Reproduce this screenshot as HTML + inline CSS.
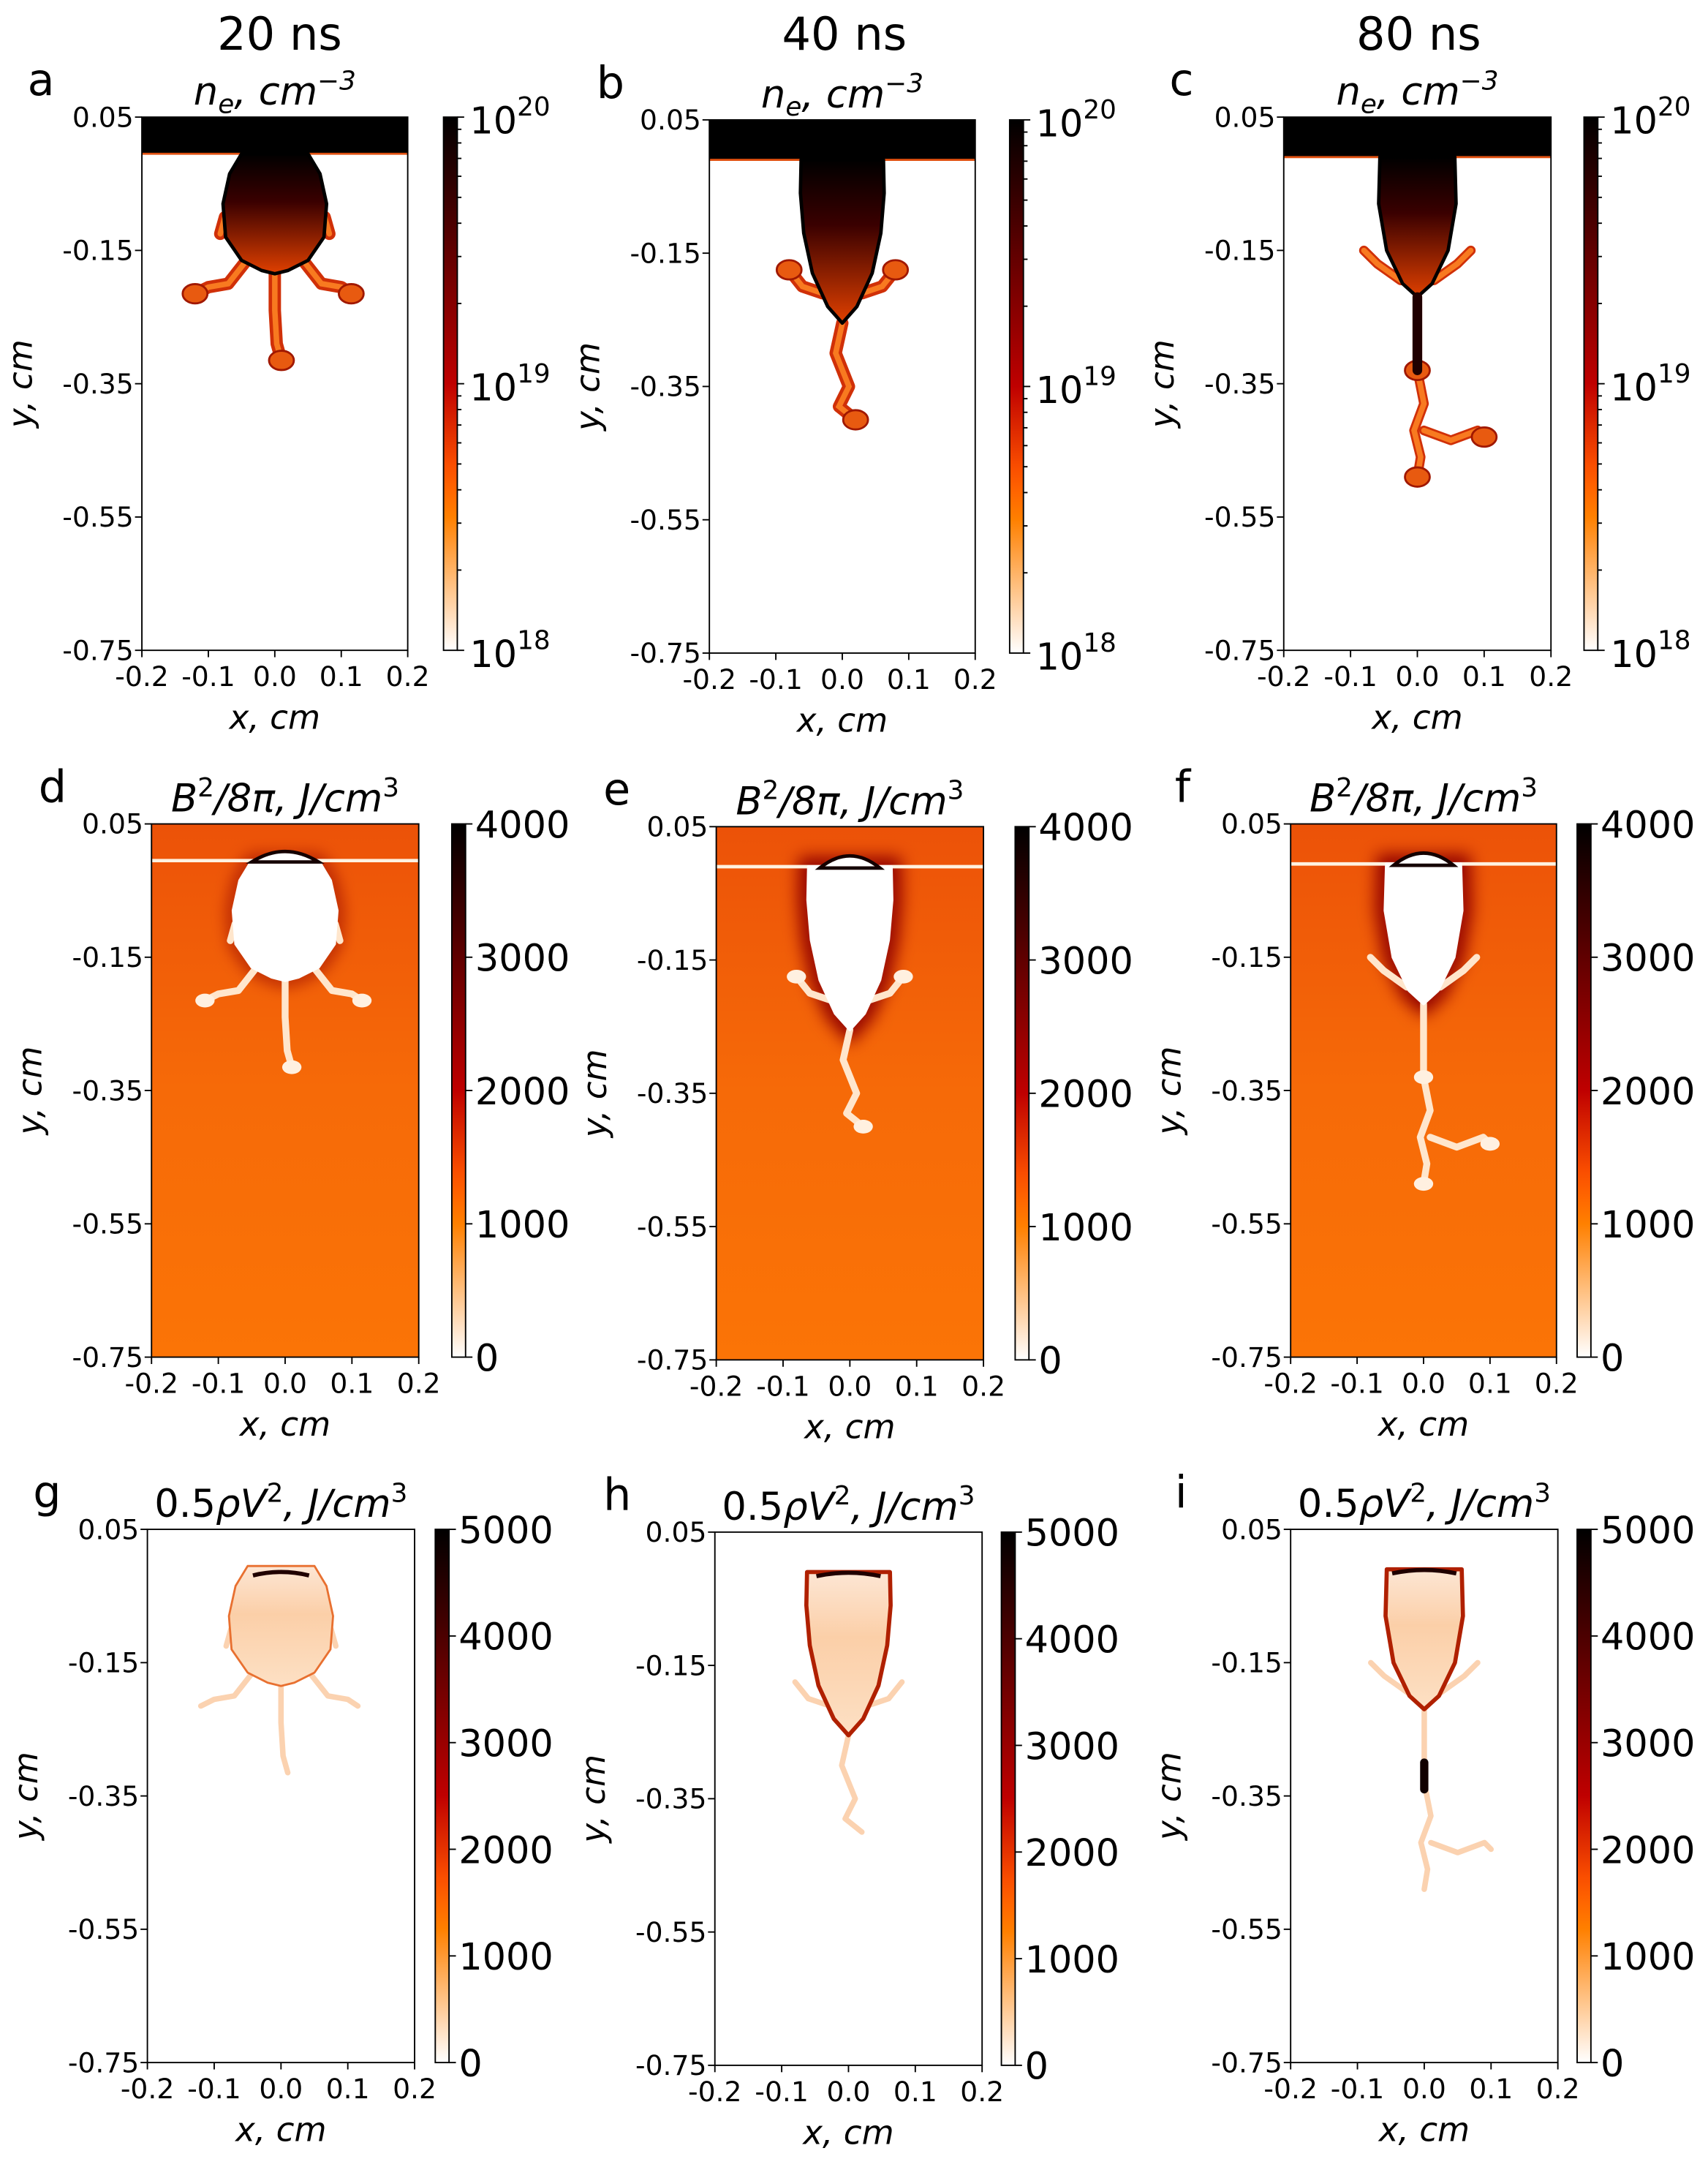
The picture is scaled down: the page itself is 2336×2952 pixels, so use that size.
<!DOCTYPE html>
<html><head><meta charset="utf-8"><style>
html,body{margin:0;padding:0;background:#fff;}
svg{display:block;font-family:"DejaVu Sans","Liberation Sans",sans-serif;}
</style></head>
<body>
<svg id="fig" xmlns="http://www.w3.org/2000/svg" width="2336" height="2952" viewBox="0 0 1240 1567">
<defs>
<filter id="blur2" x="-50%" y="-50%" width="200%" height="200%"><feGaussianBlur stdDeviation="2"/></filter>
<filter id="blur5" x="-50%" y="-50%" width="200%" height="200%"><feGaussianBlur stdDeviation="6"/></filter>
<linearGradient id="neBody" x1="0" y1="0" x2="0" y2="1"><stop offset="0" stop-color="#000"/><stop offset="0.4" stop-color="#3a0000"/><stop offset="1" stop-color="#e04000"/></linearGradient>
<linearGradient id="bBg" x1="0" y1="0" x2="0" y2="1"><stop offset="0" stop-color="#ec5208"/><stop offset="0.5" stop-color="#f66a08"/><stop offset="1" stop-color="#fb7406"/></linearGradient>
<linearGradient id="kBody" x1="0" y1="0" x2="0" y2="1"><stop offset="0" stop-color="#fde6d4"/><stop offset="0.4" stop-color="#fbcfa8"/><stop offset="1" stop-color="#fde0c4"/></linearGradient>
</defs>
</svg>
<script>
// ---- data arrays ----
const xTicks = [-0.2, -0.1, 0.0, 0.1, 0.2];
const xTickLabels = ['-0.2', '-0.1', '0.0', '0.1', '0.2'];
const yTicks = [0.05, -0.15, -0.35, -0.55, -0.75];
const yTickLabels = ['0.05', '-0.15', '-0.35', '-0.55', '-0.75'];
const neCbTicks = [18, 19, 20];
const neCbLabels = ['18', '19', '20'];
const bCbTicks = [0, 1000, 2000, 3000, 4000];
const kCbTicks = [0, 1000, 2000, 3000, 4000, 5000];
const times = ['20 ns', '40 ns', '80 ns'];
const letters = ['a','b','c','d','e','f','g','h','i'];

// ---- layout (small coords) ----
const axes = [
 [103,85,193,387],[515,87,193,387],[932,85,194,387],
 [110,598,194,387],[520,600,194,387],[937,598,193,387],
 [107,1110,194,387],[519,1112,194,387],[937,1110,194,387]];
const cbx = [322,733,1150,328,737,1145,316,727,1145];
const headerX = [203,613,1030];
const letterX = [20,433,849,28,438,853,24,438,853];

const NS='http://www.w3.org/2000/svg';
const svg=document.getElementById('fig');
function el(tag,attrs,parent){const e=document.createElementNS(NS,tag);for(const k in attrs)e.setAttribute(k,attrs[k]);(parent||svg).appendChild(e);return e;}
function cmap(v){const x=1-Math.max(0,Math.min(1,v));const r=Math.min(1,1.5*x),g=Math.max(0,2*x-1),b=Math.max(0,4*x-3);
 return 'rgb('+Math.round(r*255)+','+Math.round(g*255)+','+Math.round(b*255)+')';}

const cg=el('linearGradient',{id:'cmapG',x1:0,y1:1,x2:0,y2:0},svg.querySelector('defs'));
for(let i=0;i<=20;i++){el('stop',{offset:i/20,'stop-color':cmap(i/20)},cg);}

const bodies=[
 [[-0.05,-0.005],[-0.068,-0.035],[-0.078,-0.08],[-0.074,-0.13],[-0.05,-0.165],[-0.02,-0.18],[0,-0.185],[0.02,-0.18],[0.05,-0.165],[0.074,-0.13],[0.078,-0.08],[0.068,-0.035],[0.05,-0.005]],
 [[-0.062,-0.01],[-0.063,-0.06],[-0.058,-0.12],[-0.045,-0.18],[-0.022,-0.23],[0,-0.255],[0.022,-0.23],[0.045,-0.18],[0.058,-0.12],[0.063,-0.06],[0.062,-0.01]],
 [[-0.056,-0.01],[-0.058,-0.08],[-0.046,-0.15],[-0.022,-0.2],[0,-0.22],[0.022,-0.2],[0.046,-0.15],[0.058,-0.08],[0.056,-0.01]]];
const fingers=[
 [[[-0.045,-0.168],[-0.07,-0.2],[-0.1,-0.205],[-0.12,-0.215]],[[0.045,-0.168],[0.07,-0.2],[0.1,-0.205],[0.115,-0.215]],[[0,-0.185],[0,-0.24],[0.003,-0.29],[0.01,-0.315]],[[-0.075,-0.1],[-0.082,-0.125]],[[0.075,-0.1],[0.082,-0.125]]],
 [[[-0.03,-0.21],[-0.06,-0.2],[-0.08,-0.175]],[[0.03,-0.21],[0.06,-0.2],[0.08,-0.175]],[[0,-0.255],[-0.01,-0.3],[0.01,-0.35],[-0.005,-0.38],[0.02,-0.4]]],
 [[[-0.025,-0.195],[-0.06,-0.17],[-0.08,-0.15]],[[0.025,-0.195],[0.06,-0.17],[0.08,-0.15]],[[0,-0.22],[0,-0.33],[0.01,-0.38],[-0.005,-0.42],[0.005,-0.46],[0,-0.49]],[[0.01,-0.42],[0.05,-0.435],[0.09,-0.42],[0.1,-0.43]]]];
const blobs=[[[-0.12,-0.215],[0.115,-0.215],[0.01,-0.315]],[[0.02,-0.4],[-0.08,-0.175],[0.08,-0.175]],[[0,-0.49],[0.1,-0.43],[0,-0.33]]];

for(let p=0;p<9;p++){
 const [ax,ay,aw,ah]=axes[p];const row=Math.floor(p/3),col=p%3;
 const X=v=>ax+(v+0.2)/0.4*aw, Y=v=>ay+(0.05-v)/0.8*ah;
 const pathOf=pts=>pts.map((q,i)=>(i?'L':'M')+X(q[0]).toFixed(1)+','+Y(q[1]).toFixed(1)).join(' ');
 const g=el('g',{});
 
 
 const clip=el('clipPath',{id:'clip'+p},svg.querySelector('defs'));el('rect',{x:ax,y:ay,width:aw,height:ah},clip);
 const img=el('g',{'clip-path':'url(#clip'+p+')'},g);
 
 
 const bandY=Y(col===0?-0.005:-0.01);
 if(row===0){
  el('rect',{x:ax,y:ay,width:aw,height:ah,fill:'#fff'},img);
  el('rect',{x:ax,y:ay,width:aw,height:bandY-ay,fill:'#000'},img);
  el('line',{x1:ax,x2:ax+aw,y1:bandY,y2:bandY,stroke:'#e05010','stroke-width':1.5},img);
  fingers[col].forEach(f=>el('path',{d:pathOf(f),fill:'none',stroke:'#d03008','stroke-width':col==2?7:9,'stroke-linecap':'round','stroke-linejoin':'round'},img));
  fingers[col].forEach(f=>el('path',{d:pathOf(f),fill:'none',stroke:'#f87a20','stroke-width':4,'stroke-linecap':'round'},img));
  blobs[col].forEach(b=>el('ellipse',{cx:X(b[0]),cy:Y(b[1]),rx:9,ry:7,fill:'#e85a10',stroke:'#a01800','stroke-width':1.5},img));
  el('path',{d:pathOf(bodies[col])+'Z',fill:'url(#neBody)',stroke:'#000','stroke-width':2.5,'stroke-linejoin':'round'},img);
  if(col===2)el('path',{d:pathOf([[0,-0.22],[0,-0.33]]),stroke:'#200000','stroke-width':7,'stroke-linecap':'round'},img);
 } else if(row===1){
  el('rect',{x:ax,y:ay,width:aw,height:ah,fill:'url(#bBg)'},img);
  el('path',{d:pathOf(bodies[col])+'Z',fill:'none',stroke:'#900000','stroke-width':col===0?6:14,filter:'url(#blur5)'},img);
  el('line',{x1:ax,x2:ax+aw,y1:bandY,y2:bandY,stroke:'#fff2e0','stroke-width':2.5},img);
  fingers[col].forEach(f=>el('path',{d:pathOf(f),fill:'none',stroke:'#ffe6cc','stroke-width':5,'stroke-linecap':'round','stroke-linejoin':'round'},img));
  blobs[col].forEach(b=>el('ellipse',{cx:X(b[0]),cy:Y(b[1]),rx:7,ry:5,fill:'#fff0e0'},img));
  el('path',{d:pathOf(bodies[col])+'Z',fill:'#fff',stroke:'#fff','stroke-width':2,'stroke-linejoin':'round'},img);
  const cw=col===0?0.05:0.045;
  el('path',{d:'M'+X(-cw)+','+(bandY+1)+' Q'+X(0)+','+(Y(0.012)-6)+' '+X(cw)+','+(bandY+1)+'Z',fill:'#fff',stroke:'#150000','stroke-width':2.5},img);
 } else {
  el('rect',{x:ax,y:ay,width:aw,height:ah,fill:'#fff'},img);
  fingers[col].forEach(f=>el('path',{d:pathOf(f),fill:'none',stroke:'#fbd2b0','stroke-width':4,'stroke-linecap':'round','stroke-linejoin':'round'},img));
  el('path',{d:pathOf(bodies[col])+'Z',fill:'url(#kBody)',stroke:col===0?'#e87030':'#b02000','stroke-width':col===0?1.5:3,'stroke-linejoin':'round'},img);
  if(col===2)el('path',{d:pathOf([[0,-0.3],[0,-0.34]]),stroke:'#100000','stroke-width':6,'stroke-linecap':'round'},img);
  const cw=col===0?0.042:0.048;const cy=Y(col===0?-0.015:-0.012);
  el('path',{d:'M'+X(-cw)+','+(cy+2)+' Q'+X(0)+','+(cy-3)+' '+X(cw)+','+(cy+2),fill:'none',stroke:'#200000','stroke-width':3},img);
 }
 const frame=el('rect',{x:ax,y:ay,width:aw,height:ah,fill:'none',stroke:'#000','stroke-width':1},g);
 
 
 xTicks.forEach((t,i)=>{
  el('line',{x1:X(t),x2:X(t),y1:ay+ah,y2:ay+ah+5,stroke:'#000'},g);
  const tx=el('text',{x:X(t),y:ay+ah+26,'text-anchor':'middle','font-size':20},g);tx.textContent=xTickLabels[i];
  
  
 });
 yTicks.forEach((t,i)=>{
  el('line',{x1:ax-5,x2:ax,y1:Y(t),y2:Y(t),stroke:'#000'},g);
  const ty=el('text',{x:ax-6,y:Y(t)+7,'text-anchor':'end','font-size':20},g);ty.textContent=yTickLabels[i];
  
  
 });
 const xl=el('text',{x:ax+aw/2,y:ay+ah+57,'text-anchor':'middle','font-size':24,'font-style':'italic'},g);xl.textContent='x, cm';
 
 
 const yl=el('text',{x:0,y:0,'text-anchor':'middle','font-size':24,'font-style':'italic',transform:'translate('+(ax-80)+','+(ay+ah/2)+') rotate(-90)'},g);yl.textContent='y, cm';
 
 
 const lt=el('text',{x:letterX[p],y:ay-16,'font-size':32},g);lt.textContent=letters[p];
 
 
 const tt=el('text',{x:ax+aw/2,y:ay-9,'text-anchor':'middle','font-size':28},g);
 
 
 if(row===0){tt.innerHTML='<tspan font-style="italic">n</tspan><tspan font-style="italic" font-size="19" dy="6">e</tspan><tspan dy="-6" font-style="italic">, cm</tspan><tspan font-size="19" dy="-11" font-style="italic">−3</tspan>';}
 else if(row===1){tt.innerHTML='<tspan font-style="italic">B</tspan><tspan font-size="19" dy="-11">2</tspan><tspan dy="11" font-style="italic">/8π, J/cm</tspan><tspan font-size="19" dy="-11">3</tspan>';}
 else {tt.innerHTML='0.5<tspan font-style="italic">ρV</tspan><tspan font-size="19" dy="-11">2</tspan><tspan dy="11" font-style="italic">, J/cm</tspan><tspan font-size="19" dy="-11">3</tspan>';}
 const cx=cbx[p],cw=10;
 const cb=el('rect',{x:cx,y:ay,width:cw,height:ah,fill:'url(#cmapG)',stroke:'#000','stroke-width':1},g);
 
 
 if(row===0){
  const CY=v=>ay+ah-(v-18)/2*ah;
  for(let d=18;d<20;d++)for(let m=2;m<10;m++){const yy=CY(d+Math.log10(m));el('line',{x1:cx+cw,x2:cx+cw+3,y1:yy,y2:yy,stroke:'#000'},g);}
  neCbTicks.forEach((t,i)=>{
   el('line',{x1:cx+cw,x2:cx+cw+5,y1:CY(t),y2:CY(t),stroke:'#000'},g);
   const ct=el('text',{x:cx+cw+9,y:CY(t)+12,'font-size':27},g);
   ct.innerHTML='10<tspan font-size="19" dy="-13">'+neCbLabels[i]+'</tspan>';
   
   
  });
 } else {
  const ticks=row===1?bCbTicks:kCbTicks;const vmax=ticks[ticks.length-1];
  const CY=v=>ay+ah-v/vmax*ah;
  ticks.forEach(t=>{
   el('line',{x1:cx+cw,x2:cx+cw+5,y1:CY(t),y2:CY(t),stroke:'#000'},g);
   const ct=el('text',{x:cx+cw+7,y:CY(t)+10,'font-size':27},g);ct.textContent=String(t);
   
   
  });
 }
}
times.forEach((t,i)=>{
 const h=el('text',{x:headerX[i],y:36,'text-anchor':'middle','font-size':33});h.textContent=t;
 
 
});
</script>
</body></html>
